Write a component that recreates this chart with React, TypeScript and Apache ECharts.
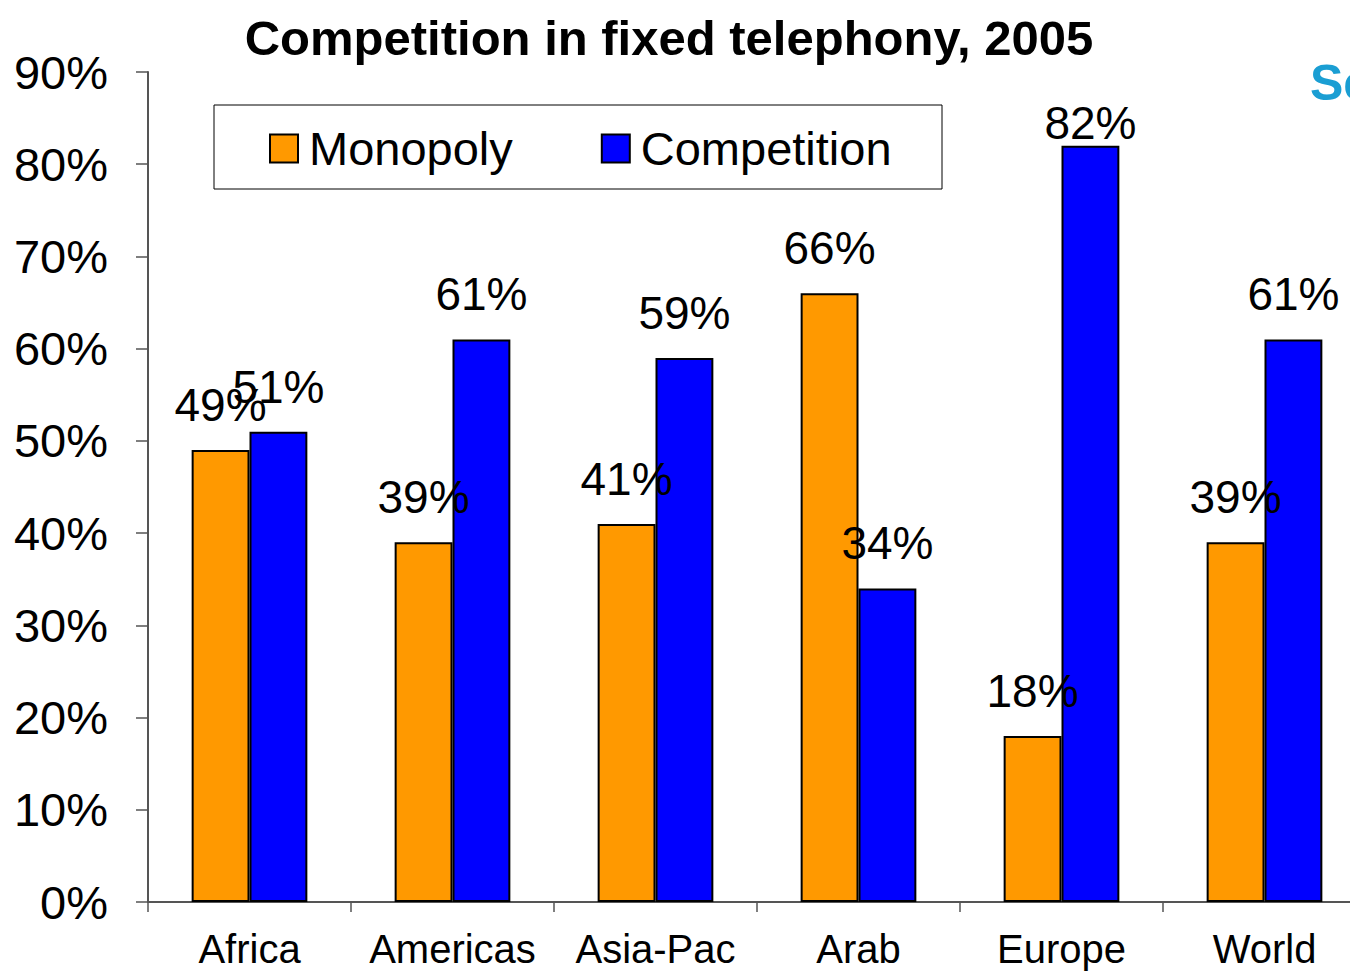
import React, { useEffect, useRef } from "react";
import * as echarts from "echarts";

const categories = ["Africa", "Americas", "Asia-Pac", "Arab", "Europe", "World"];
const monopoly = [49, 39, 41, 66, 18, 39];
const competition = [51, 61, 59, 34, 82, 61];
const yTicks = [0, 10, 20, 30, 40, 50, 60, 70, 80, 90];

export default function App() {
  const ref = useRef<HTMLDivElement>(null);
  useEffect(() => {
    const chart = echarts.init(ref.current!, null, { renderer: "svg" });
    const font = "'Liberation Sans', Arial, sans-serif";
    const labelStyle = {
      show: true,
      position: "top" as const,
      distance: 22,
      formatter: "{c}%",
      fontSize: 46,
      fontFamily: font,
      color: "#000",
    };
    const compData = competition.map((v) =>
      v >= 80 ? { value: v, label: { distance: 0 } } : v
    );
    chart.setOption({
      animation: false,
      backgroundColor: "#fff",
      title: {
        text: "Competition in fixed telephony, 2005",
        left: 664,
        textAlign: "center",
        top: 8,
        textStyle: { fontSize: 49, fontWeight: "bold", fontFamily: font, color: "#000" },
      },
      graphic: [
        {
          type: "rect",
          shape: { x: 214, y: 105, width: 728, height: 84 },
          style: { fill: "#fff", stroke: "#000", lineWidth: 1 },
          z: 5,
        },
        {
          type: "text",
          x: 1310,
          y: 58,
          style: { text: "Sc", fontSize: 50, fontWeight: "bold", fontFamily: font, fill: "#1a9ed3" },
        },
      ],
      legend: {
        left: 264,
        top: 120,
        itemWidth: 28,
        itemHeight: 28,
        itemGap: 88,
        icon: "rect",
        z: 10,
        textStyle: { fontSize: 47, fontFamily: font, color: "#000", padding: [0, 0, 0, 6] },
        data: ["Monopoly", "Competition"],
      },
      grid: { left: 148, top: 72, width: 1218, height: 830 },
      xAxis: {
        type: "category",
        data: categories,
        axisLine: { lineStyle: { color: "#555", width: 2 } },
        axisTick: { show: true, length: 10, lineStyle: { color: "#555", width: 1.5 } },
        axisLabel: {
          interval: 0,
          fontSize: 40,
          fontFamily: font,
          color: "#000",
          margin: 27,
        },
      },
      yAxis: {
        type: "value",
        min: 0,
        max: 90,
        interval: 10,
        splitLine: { show: false },
        axisLine: { show: true, lineStyle: { color: "#555", width: 2 } },
        axisTick: { show: true, length: 12, lineStyle: { color: "#555", width: 1.5 } },
        axisLabel: {
          fontSize: 47,
          fontFamily: font,
          color: "#000",
          margin: 40,
          formatter: (v: number) => (yTicks.includes(v) ? v + "%" : ""),
        },
      },
      series: [
        {
          name: "Monopoly",
          type: "bar",
          data: monopoly,
          barGap: "0%",
          barCategoryGap: "43%",
          itemStyle: { color: "#ff9900", borderColor: "#000", borderWidth: 2 },
          label: labelStyle,
        },
        {
          name: "Competition",
          type: "bar",
          data: compData,
          itemStyle: { color: "#0000ff", borderColor: "#000", borderWidth: 2 },
          label: labelStyle,
        },
      ],
    });
    return () => chart.dispose();
  }, []);
  return (
    <div
      style={{ position: "fixed", left: 0, top: 0, width: 1350, height: 973, overflow: "hidden", background: "#fff" }}
    >
      <div ref={ref} style={{ width: 1370, height: 973 }} />
    </div>
  );
}
